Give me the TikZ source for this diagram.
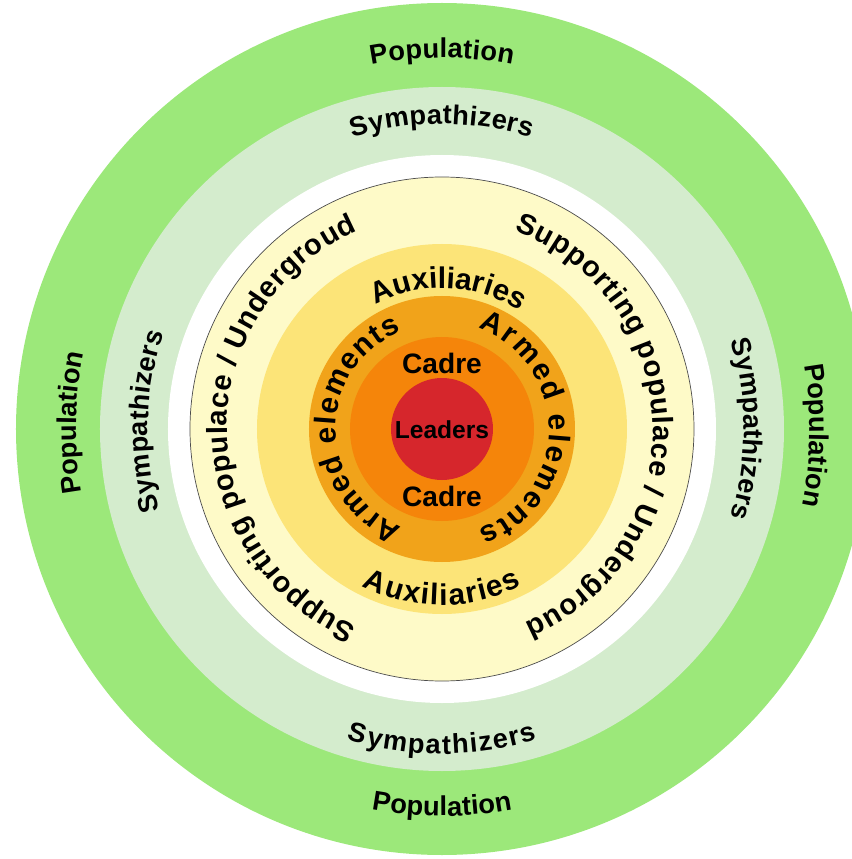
\documentclass[tikz,border=0pt]{standalone}
\usepackage{fontspec}
\setmainfont{Liberation Sans}
\usetikzlibrary{decorations.text}
\definecolor{popgreen}{HTML}{9CE87A}
\definecolor{sympgreen}{HTML}{D4ECCD}
\definecolor{suppyellow}{HTML}{FEFAC8}
\definecolor{auxyellow}{HTML}{FCE478}
\definecolor{armedorange}{HTML}{F1A31A}
\definecolor{cadreorange}{HTML}{F5850A}
\definecolor{leadred}{HTML}{D6262C}
\begin{document}
\begin{tikzpicture}[x=0.02cm,y=0.02cm,font=\bfseries,
  arctext/.style 2 args={decorate,decoration={text along path,text align=fit to path,
    text={|\fontsize{#1}{#1}\selectfont\bfseries|#2}}}]
\useasboundingbox (-442,-430) rectangle (410,429);
\fill[popgreen] (0,0) circle[radius=426];
\fill[sympgreen] (0,0) circle[radius=342];
\fill[white] (0,0) circle[radius=274];
\filldraw[fill=suppyellow,draw=black!70,line width=0.4pt] (0,0) circle[radius=252];
\fill[auxyellow] (0,0) circle[radius=185];
\fill[armedorange] (0,0) circle[radius=133];
\fill[cadreorange] (0,0) circle[radius=92];
\fill[leadred] (0,0) circle[radius=51];
\node[font=\fontsize{14}{14}\selectfont\bfseries] (leaders) at (0,-1) {Leaders};
\node[font=\fontsize{16}{16}\selectfont\bfseries] (cadretop) at (0,66) {Cadre};
\node[font=\fontsize{16}{16}\selectfont\bfseries] (cadrebot) at (0,-67) {Cadre};
\path[arctext={15.5}{Population}] (101:371) arc[start angle=101,end angle=79,radius=371];
\path[arctext={15.5}{Population}] (259.5:387) arc[start angle=259.5,end angle=280.5,radius=387];
\path[arctext={15.5}{Population}] (190:366) arc[start angle=190,end angle=168,radius=366];
\path[arctext={15.5}{Population}] (10:368) arc[start angle=10,end angle=-12,radius=368];
\path[arctext={15.5}{Sympathizers}] (107:305) arc[start angle=107,end angle=73,radius=305];
\path[arctext={15.5}{Sympathizers}] (253:325) arc[start angle=253,end angle=287,radius=325];
\path[arctext={15.5}{Sympathizers}] (196:294) arc[start angle=196,end angle=161,radius=294];
\path[arctext={15.5}{Sympathizers}] (17:302) arc[start angle=17,end angle=-17,radius=302];
\path[arctext={16.5}{Supporting populace / Undergroud}] (70:211) arc[start angle=70,end angle=-67,radius=211];
\path[arctext={16.5}{Supporting populace / Undergroud}] (246.6:215) arc[start angle=246.6,end angle=113,radius=215];
\path[arctext={17}{Auxiliaries}] (118:141) arc[start angle=118,end angle=59,radius=141];
\path[arctext={17}{Auxiliaries}] (243:176) arc[start angle=243,end angle=297,radius=176];
\path[arctext={17}{Armed elements}] (70:107) arc[start angle=70,end angle=-70,radius=107];
\path[arctext={17}{Armed elements}] (247.6:106) arc[start angle=247.6,end angle=112.6,radius=106];
\end{tikzpicture}
\end{document}
